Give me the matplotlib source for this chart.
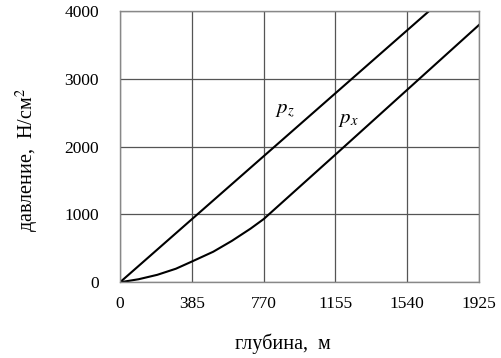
import numpy as np
import matplotlib.pyplot as plt

plt.rcParams['font.family'] = ['Liberation Serif', 'DejaVu Serif']
plt.rcParams['mathtext.fontset'] = 'stix'

# глубина, м
depth_z = [0, 1925]
p_z = [0, 4640]
depth_x = [0, 100, 200, 300, 385, 500, 600, 700, 770, 1155, 1540, 1925]
p_x = [0, 45, 110, 200, 305, 450, 610, 790, 930, 1880, 2835, 3790]

xticks = [0, 385, 770, 1155, 1540, 1925]
yticks = [0, 1000, 2000, 3000, 4000]

fig = plt.figure(figsize=(5.01, 3.58), dpi=100)
ax = fig.add_axes([0.2395, 0.2115, 0.7165, 0.7585])

ax.plot(depth_z, p_z, color='black', lw=1.5)
ax.plot(depth_x, p_x, color='black', lw=1.5)

ax.set_xlim(0, 1925)
ax.set_ylim(0, 4000)
ax.set_xticks(xticks)
ax.set_yticks(yticks)
ax.grid(True, color='#555555', lw=0.9)
for s in ax.spines.values():
    s.set_color('#888888')
    s.set_linewidth(1.0)
ax.tick_params(axis='both', length=0, labelsize=12.5)
ax.tick_params(axis='y', pad=15)
ax.tick_params(axis='x', pad=10)

ax.text(886, 2530, '$p_z$', fontsize=15, ha='center', va='center')
ax.text(1224, 2400, '$p_x$', fontsize=15, ha='center', va='center')

ax.set_xlabel('глубина,  м', fontsize=14.5)
ax.xaxis.set_label_coords(0.455, -0.19)
fig.text(27 / 501, 1 - 160 / 358, 'давление,  Н/см$^2$', fontsize=14.5,
         rotation=90, ha='center', va='center')

plt.savefig('out.png', dpi=100)
